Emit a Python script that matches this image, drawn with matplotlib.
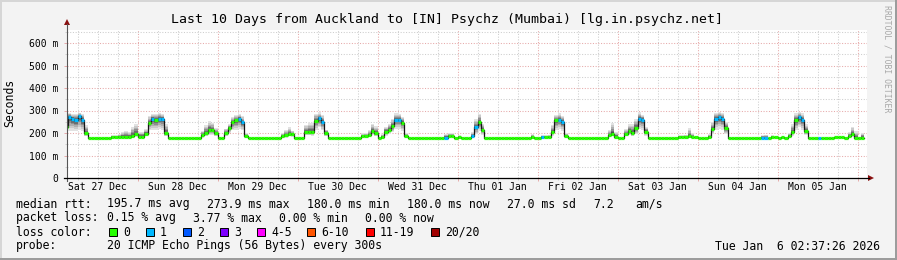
import numpy as np
import matplotlib
matplotlib.use('Agg')
import matplotlib.pyplot as plt
from matplotlib.lines import Line2D
from matplotlib.patches import Rectangle, Polygon

## hourly median rtt (ms), one list per day, first sample is 02:00 Sat 27 Dec
med_sat27 = [225, 271, 262, 256, 274, 256, 200, 180, 180, 180, 180, 180, 180, 180,
             183, 183, 183, 183, 183, 183, 187, 195]
med_sun28 = [184, 184, 195, 245, 262, 256, 262, 262, 200, 180, 180, 180, 180, 180,
             180, 180, 180, 180, 180, 190, 200, 213, 215, 200]
med_mon29 = [180, 180, 200, 222, 249, 256, 264, 247, 185, 180, 180, 180, 180, 180,
             180, 180, 180, 180, 180, 185, 190, 196, 195, 180]
med_tue30 = [180, 180, 205, 205, 203, 255, 265, 250, 200, 180, 180, 180, 180, 180,
             180, 180, 180, 180, 180, 185, 185, 190, 210, 200]
med_wed31 = [180, 183, 205, 215, 230, 260, 260, 245, 185, 180, 180, 180, 180, 180,
             180, 180, 180, 180, 180, 180, 180, 185, 185, 180]
med_thu01 = [183, 180, 180, 180, 185, 225, 249, 215, 180, 180, 180, 180, 180, 180,
             180, 180, 180, 180, 180, 180, 180, 180, 183, 180]
med_fri02 = [180, 183, 183, 183, 205, 256, 260, 249, 185, 180, 180, 180, 180, 180,
             180, 180, 180, 180, 180, 180, 180, 190, 196, 183]
med_sat03 = [180, 180, 195, 208, 200, 222, 264, 258, 205, 180, 180, 180, 180, 180,
             180, 180, 180, 180, 183, 183, 183, 185, 183, 183]
med_sun04 = [180, 180, 180, 183, 220, 264, 270, 264, 222, 180, 180, 180, 180, 180,
             180, 180, 180, 180, 180, 180, 180, 180, 183, 183]
med_mon05 = [180, 183, 180, 185, 205, 256, 270, 260, 210, 180, 180, 180, 180, 180,
             180, 180, 180, 183, 183, 183, 180, 185, 195, 180]
med_tue06 = [180, 180]

## hours (since Sat 27 Dec 00:00) where 1 of 20 pings was lost
loss1_hours = [3, 4, 5, 6, 7, 28, 30, 31, 54, 55, 78, 79, 101, 102, 116, 124, 125,
               145, 150, 151, 174, 175, 197, 198, 199, 211, 212, 222, 223, 228]

## smoke range (ms) for hours with spread; other hours are flat at the median
smoke_hours = [2, 3, 4, 5, 6, 7, 8, 16, 17, 18, 19, 20, 21, 22, 23, 24, 25, 26, 27, 28,
               29, 30, 31, 32, 43, 44, 45, 46, 47, 50, 51, 52, 53, 54, 55, 56, 67, 68,
               69, 70, 74, 75, 76, 77, 78, 79, 80, 91, 92, 93, 94, 95, 97, 98, 99, 100,
               101, 102, 103, 104, 116, 117, 118, 120, 124, 125, 126, 127, 142, 145,
               146, 147, 148, 149, 150, 151, 152, 165, 166, 167, 170, 171, 172, 173,
               174, 175, 176, 186, 187, 188, 189, 190, 195, 196, 197, 198, 199, 200,
               211, 212, 214, 219, 220, 221, 222, 223, 224, 237, 238, 239, 241]
smoke_lo = [205, 210, 210, 210, 215, 210, 185, 180, 180, 180, 180, 180, 180, 180, 182,
            180, 180, 185, 212, 215, 215, 220, 215, 185, 180, 185, 190, 190, 185, 185,
            200, 212, 215, 220, 212, 180, 180, 180, 185, 183, 190, 190, 188, 215, 225,
            212, 185, 180, 180, 182, 190, 185, 180, 188, 195, 205, 220, 220, 210, 180,
            180, 180, 180, 180, 180, 195, 210, 190, 180, 180, 180, 180, 188, 215, 220,
            210, 180, 182, 185, 180, 185, 190, 185, 195, 220, 215, 188, 180, 180, 180,
            180, 180, 180, 195, 215, 220, 215, 195, 180, 180, 180, 180, 188, 215, 225,
            215, 190, 180, 183, 180, 180]
smoke_hi = [240, 290, 285, 285, 290, 285, 235, 190, 190, 195, 205, 210, 205, 228, 240,
            205, 205, 220, 275, 285, 285, 288, 285, 240, 210, 235, 252, 245, 222, 220,
            240, 270, 280, 283, 275, 200, 200, 215, 225, 210, 235, 245, 245, 285, 292,
            280, 215, 198, 200, 215, 240, 230, 195, 228, 240, 262, 287, 285, 270, 200,
            195, 200, 200, 190, 205, 262, 285, 238, 195, 190, 190, 192, 235, 282, 287,
            275, 200, 212, 245, 205, 218, 238, 240, 262, 292, 282, 228, 190, 190, 192,
            222, 198, 195, 248, 290, 292, 287, 248, 190, 192, 190, 200, 238, 287, 292,
            287, 238, 205, 228, 207, 200]

day_labels = ['Sat 27 Dec', 'Sun 28 Dec', 'Mon 29 Dec', 'Tue 30 Dec', 'Wed 31 Dec',
              'Thu 01 Jan', 'Fri 02 Jan', 'Sat 03 Jan', 'Sun 04 Jan', 'Mon 05 Jan']
ytick_vals = [0.0, 0.1, 0.2, 0.3, 0.4, 0.5, 0.6]
ytick_labels = ['0', '100 m', '200 m', '300 m', '400 m', '500 m', '600 m']

loss_labels = ['0', '1', '2', '3', '4-5', '6-10', '11-19', '20/20']
loss_colors = ['#26ff00', '#00b8ff', '#0059ff', '#7e00ff', '#ff00ff', '#ff5500',
               '#ff0000', '#a10000']

first_hour = 2
start_hour = 2.62      # 02:37 Sat 27 Dec
MONO = 'DejaVu Sans Mono'

W, H = 897, 260
fig = plt.figure(figsize=(W / 100.0, H / 100.0), dpi=100, facecolor='#f3f3f3')

def fx(x):
    return x / float(W)

def fy(y):
    return 1.0 - y / float(H)

# plot canvas: x 66.5..866.5 px, y 178 (0) .. 29.5 (0.66 s)
ax = fig.add_axes([fx(66.5), fy(178), 800.0 / W, 148.5 / H])
ax.set_facecolor('white')

median = np.array(med_sat27 + med_sun28 + med_mon29 + med_tue30 + med_wed31 +
                  med_thu01 + med_fri02 + med_sat03 + med_sun04 + med_mon05 +
                  med_tue06, dtype=float)
hours = np.arange(len(median)) + first_hour
lo = median.copy()
hi = median.copy()
for h, l, u in zip(smoke_hours, smoke_lo, smoke_hi):
    lo[h - first_hour] = l
    hi[h - first_hour] = u
loss = np.zeros(len(median), dtype=int)
for h in loss1_hours:
    loss[h - first_hour] = 1

# to seconds / days
med_s = median / 1000.0
lo_s = lo / 1000.0
hi_s = hi / 1000.0
edges = np.append(hours, hours[-1] + 1) / 24.0

# smoke, lighter at the extremes
fracs = [1.0, 0.8, 0.62, 0.46, 0.3, 0.15]
grays = ['#e2e2e2', '#cacaca', '#aeaeae', '#8e8e8e', '#6c6c6c', '#4a4a4a']
for f, g in zip(fracs, grays):
    l = med_s - (med_s - lo_s) * f
    u = med_s + (hi_s - med_s) * f
    ax.fill_between(edges, np.append(l, l[-1]), np.append(u, u[-1]), step='post',
                    color=g, lw=0, zorder=2)

ax.step(edges, np.append(med_s, med_s[-1]), where='post', color='#151515', lw=0.9,
        zorder=3)
cols = [loss_colors[k] for k in loss]
ax.hlines(med_s, hours / 24.0, (hours + 1) / 24.0, colors=cols, lw=2.3, zorder=4)

ax.set_xlim(start_hour / 24.0, (start_hour + 240) / 24.0)
ax.set_ylim(0, 0.66)

# grid
ax.set_yticks(ytick_vals)
ax.set_yticks(np.arange(0.05, 0.66, 0.1), minor=True)
ax.set_yticklabels(ytick_labels, family=MONO, fontsize=7)
ax.set_xticks(np.arange(1, 11))
ax.set_xticks(np.arange(0.25, 10.2, 0.25), minor=True)
ax.set_xticklabels([])
ax.grid(which='major', color='#e6a9a9', ls=(0, (1, 1.6)), lw=0.75, zorder=1)
ax.grid(which='minor', color='#cdcdcd', ls=(0, (1, 1.6)), lw=0.75, zorder=1)
ax.set_axisbelow(True)
ax.tick_params(which='major', length=2.2, width=0.7, color='#e6a9a9', pad=4)
ax.tick_params(which='minor', length=1.5, width=0.7, color='#cdcdcd')
for s in ax.spines.values():
    s.set_visible(False)

for i, lab in enumerate(day_labels):
    ax.text(i + 0.5, -9.5 / 148.5, lab, transform=ax.get_xaxis_transform(),
            ha='center', va='center', family=MONO, fontsize=7)

# axes with arrows
fig.add_artist(Line2D([fx(67), fx(67)], [fy(181), fy(24)], color='#555555', lw=0.8))
fig.add_artist(Line2D([fx(64), fx(869)], [fy(178), fy(178)], color='black', lw=0.9))
fig.add_artist(Polygon([[fx(64), fy(25)], [fx(70), fy(25)], [fx(67), fy(19)]],
                       closed=True, color='#8b1010', lw=0))
fig.add_artist(Polygon([[fx(868), fy(175)], [fx(868), fy(181)], [fx(874), fy(178)]],
                       closed=True, color='#8b1010', lw=0))

# titles
fig.text(fx(447), fy(19), 'Last 10 Days from Auckland to [IN] Psychz (Mumbai) [lg.in.psychz.net]',
         ha='center', va='center', family=MONO, fontsize=9.5)
fig.text(fx(10), fy(103), 'Seconds', rotation=90, ha='center', va='center',
         family=MONO, fontsize=8.3)
fig.text(fx(887), fy(59), 'RRDTOOL / TOBI OETIKER', rotation=270, ha='center',
         va='center', family=MONO, fontsize=5.9, color='#a8a8a8')

# legend rows
LF = 8.3
rows = [
    (204, [(16, 'median rtt:'), (107, '195.7 ms avg'), (207, '273.9 ms max'),
           (307, '180.0 ms min'), (407, '180.0 ms now'), (507, '27.0 ms sd'),
           (593, '7.2'), (635, 'am/s')]),
    (218, [(16, 'packet loss:'), (107, '0.15 % avg'), (193, '3.77 % max'),
           (279, '0.00 % min'), (365, '0.00 % now')]),
    (232, [(16, 'loss color:')]),
    (246, [(16, 'probe:'), (107, '20 ICMP Echo Pings (56 Bytes) every 300s')]),
]
for y, items in rows:
    for x, s in items:
        fig.text(fx(x), fy(y), s, ha='left', va='center', family=MONO, fontsize=LF)

box_x = [108.5, 145.5, 182.5, 219.5, 256.5, 306.5, 365.5, 430.5]
for bx, lab, c in zip(box_x, loss_labels, loss_colors):
    fig.add_artist(Rectangle((fx(bx), fy(236)), 8.0 / W, 8.0 / H, facecolor=c,
                             edgecolor='black', lw=0.7))
    fig.text(fx(bx + 14.5), fy(232), lab, ha='left', va='center', family=MONO, fontsize=LF)

fig.text(fx(880), fy(246), 'Tue Jan  6 02:37:26 2026', ha='right', va='center',
         family=MONO, fontsize=LF)

# 3d border
fig.add_artist(Rectangle((0, fy(2)), 1, 2.0 / H, color='#d6d6d6', lw=0))
fig.add_artist(Rectangle((0, 0), 2.0 / W, 1, color='#d6d6d6', lw=0))
fig.add_artist(Rectangle((0, 0), 1, 2.5 / H, color='#9c9c9c', lw=0))
fig.add_artist(Rectangle((1 - 2.5 / W, 0), 2.5 / W, 1, color='#9c9c9c', lw=0))

plt.savefig('out.png', dpi=100, facecolor=fig.get_facecolor())
